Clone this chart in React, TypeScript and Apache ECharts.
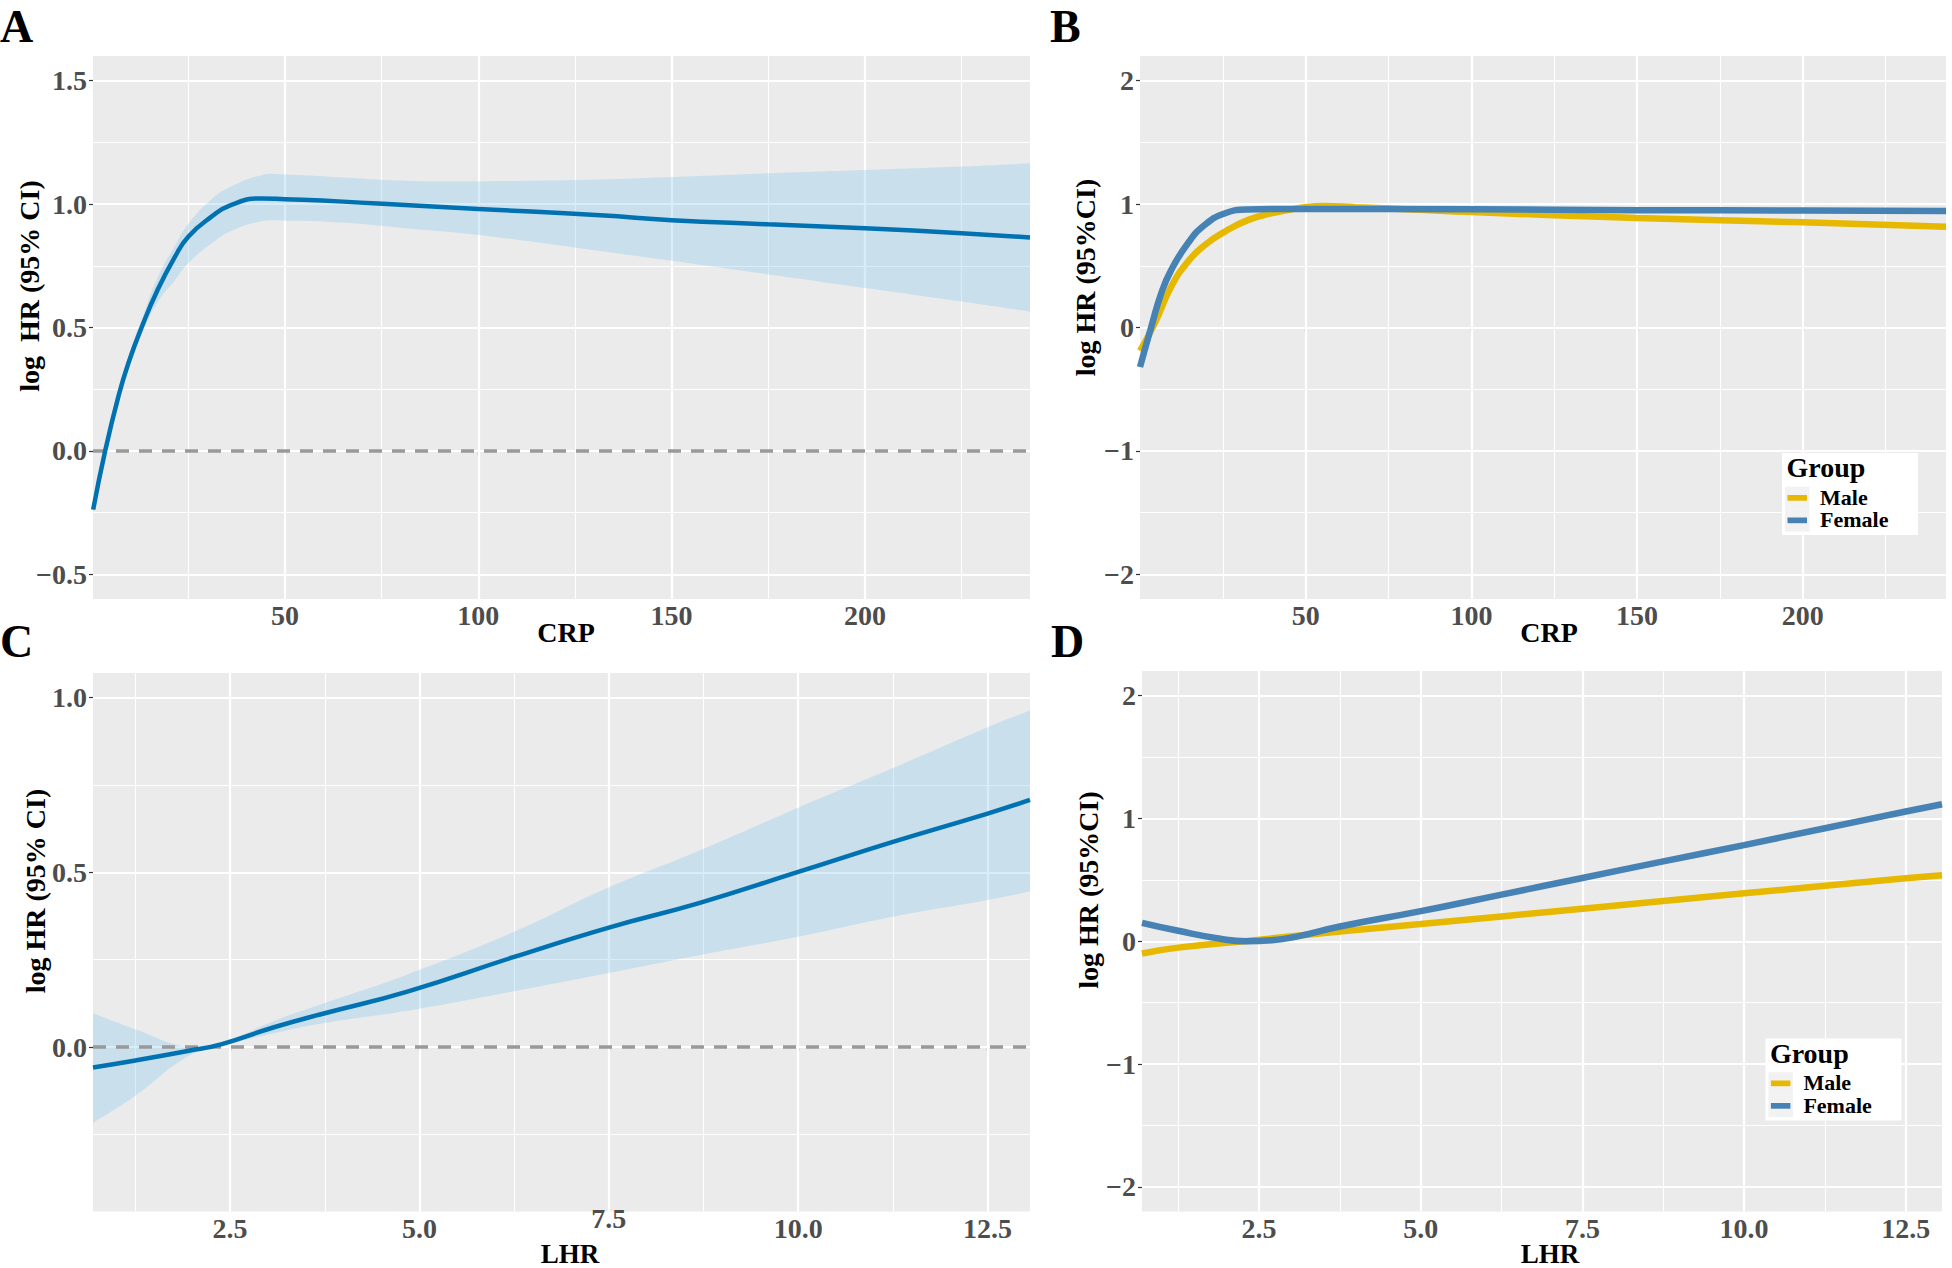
import React, { useEffect, useRef } from 'react';
import * as echarts from 'echarts';

const FONT = '"Liberation Serif", "Times New Roman", serif';
const TICK_COLOR = '#4D4D4D';
const PANEL_BG = '#EBEBEB';
const FIT_COLOR = '#0072B2';
const BAND_COLOR = 'rgba(135,198,238,0.32)';
const ZERO_COLOR = '#999999';

// ---------- Panel A: CRP, overall (fit + 95% CI) ----------
const crpA = [0.4, 3.5, 7, 9.5, 13, 17, 21.5, 25, 31, 36, 44, 50, 65, 81, 100, 131.5, 150, 175, 200, 225, 242.7];
const fitA = [-0.238, 0.0, 0.225, 0.355, 0.503, 0.65, 0.785, 0.868, 0.949, 0.996, 1.023, 1.02, 1.01, 0.996, 0.98, 0.955, 0.935, 0.918, 0.902, 0.882, 0.865];
const upA = [-0.222, 0.02, 0.245, 0.38, 0.535, 0.7, 0.83, 0.92, 1.02, 1.07, 1.117, 1.12, 1.108, 1.095, 1.093, 1.1, 1.11, 1.125, 1.138, 1.152, 1.165];
const loA = [-0.252, -0.02, 0.205, 0.33, 0.475, 0.6, 0.69, 0.76, 0.84, 0.89, 0.93, 0.933, 0.925, 0.902, 0.875, 0.81, 0.77, 0.715, 0.66, 0.605, 0.564];

// ---------- Panel B: CRP by sex ----------
const crpMaleX = [0, 4.4, 9.4, 14.4, 19.5, 25.5, 32.5, 39.5, 44.6, 49.7, 55.8, 65, 82, 100, 150, 200, 243.2];
const crpMaleY = [-0.19, 0.032, 0.33, 0.532, 0.667, 0.775, 0.87, 0.924, 0.951, 0.975, 0.984, 0.975, 0.957, 0.935, 0.888, 0.852, 0.816];
const crpFemaleX = [0, 3.4, 6.4, 9.4, 14.4, 19.5, 25.5, 32.5, 44.6, 100, 150, 200, 243.2];
const crpFemaleY = [-0.32, 0.005, 0.276, 0.465, 0.681, 0.83, 0.924, 0.957, 0.96, 0.958, 0.951, 0.948, 0.945];

// ---------- Panel C: LHR, overall (fit + 95% CI) ----------
const lhrC = [0.69, 1.25, 1.94, 2.38, 3.08, 3.75, 4.84, 6.25, 7.5, 8.69, 10, 11.25, 12.5, 13.06];
const fitC = [-0.058, -0.038, -0.011, 0.008, 0.057, 0.097, 0.159, 0.258, 0.342, 0.412, 0.501, 0.587, 0.668, 0.707];
const upC = [0.097, 0.051, 0.0, 0.012, 0.075, 0.126, 0.208, 0.33, 0.457, 0.562, 0.685, 0.798, 0.915, 0.963];
const loC = [-0.217, -0.139, -0.027, 0.003, 0.04, 0.069, 0.104, 0.16, 0.212, 0.263, 0.316, 0.373, 0.421, 0.445];

// ---------- Panel D: LHR by sex ----------
const lhrMaleX = [0.69, 1.25, 2.5, 3.75, 5, 7.5, 10, 12.5, 13.06];
const lhrMaleY = [-0.1, -0.052, 0.012, 0.08, 0.14, 0.265, 0.39, 0.512, 0.537];
const lhrFemaleX = [0.69, 1.25, 1.9, 2.3, 2.7, 3.1, 3.75, 5, 6.25, 7.5, 8.75, 10, 11.25, 12.5, 13.06];
const lhrFemaleY = [0.15, 0.085, 0.02, 0.0, 0.008, 0.04, 0.12, 0.245, 0.38, 0.515, 0.65, 0.783, 0.92, 1.056, 1.115];

// ---------- ticks / labels ----------
const crpMajor = [50, 100, 150, 200];
const crpMinor = [25, 75, 125, 175, 225];
const crpLabels = ['50', '100', '150', '200'];
const lhrMajor = [2.5, 5, 7.5, 10, 12.5];
const lhrMinor = [1.25, 3.75, 6.25, 8.75, 11.25];
const lhrLabels = ['2.5', '5.0', '7.5', '10.0', '12.5'];
const yAMajor = [-0.5, 0, 0.5, 1, 1.5];
const yAMinor = [-0.25, 0.25, 0.75, 1.25];
const yALabels = ['\u22120.5', '0.0', '0.5', '1.0', '1.5'];
const yCMajor = [0, 0.5, 1];
const yCMinor = [-0.25, 0.25, 0.75];
const yCLabels = ['0.0', '0.5', '1.0'];
const ySexMajor = [-2, -1, 0, 1, 2];
const ySexMinor = [-1.5, -0.5, 0.5, 1.5];
const ySexLabels = ['\u22122', '\u22121', '0', '1', '2'];

const panelLetters = ['A', 'B', 'C', 'D'];
const xTitles = ['CRP', 'CRP', 'LHR', 'LHR'];
const yTitles = ['log\u00A0 HR (95% CI)', 'log HR (95%CI)', 'log HR (95% CI)', 'log HR (95%CI)'];
const legendTitle = 'Group';
const groupNames = ['Male', 'Female'];
const groupColors = ['#E7B800', '#4682B4'];
const raisedLabelsC = ['7.5'];

const W = 1952;
const H = 1268;

const labelFor = (v: number, vals: number[], labels: string[]) => {
  const i = vals.findIndex((m) => Math.abs(m - v) < 1e-6);
  return i >= 0 ? labels[i] : '';
};

const tickLabelStyle = {
  color: TICK_COLOR,
  fontFamily: FONT,
  fontWeight: 'bold',
  fontSize: 28,
  lineHeight: 24,
};

function xAxisCfg(gridIndex: number, min: number, max: number, major: number[], labels: string[], margin: number, raised: string[] = []) {
  return {
    type: 'value',
    gridIndex,
    min,
    max,
    axisLine: { show: false },
    axisTick: { show: true, customValues: major, length: 4, lineStyle: { color: '#333333', width: 1.2 } },
    axisLabel: {
      ...tickLabelStyle,
      customValues: major,
      margin,
      formatter: (v: number) => {
        const s = labelFor(v, major, labels);
        return raised.includes(s) ? `{up|${s}}` : s;
      },
      rich: { up: { ...tickLabelStyle, lineHeight: 4 } },
    },
    splitLine: { show: false },
  };
}

function yAxisCfg(gridIndex: number, min: number, max: number, major: number[], labels: string[]) {
  return {
    type: 'value',
    gridIndex,
    min,
    max,
    axisLine: { show: false },
    axisTick: { show: true, customValues: major, length: 4, lineStyle: { color: '#333333', width: 1.2 } },
    axisLabel: {
      ...tickLabelStyle,
      customValues: major,
      margin: 6,
      formatter: (v: number) => labelFor(v, major, labels),
    },
    splitLine: { show: false },
  };
}

function gridMarks(xMaj: number[], xMin: number[], yMaj: number[], yMin: number[]) {
  const major = { color: '#FFFFFF', width: 2.2, type: 'solid' };
  const minor = { color: '#FFFFFF', width: 1.1, type: 'solid' };
  return {
    silent: true,
    z: 1,
    symbol: ['none', 'none'],
    label: { show: false },
    emphasis: { disabled: true },
    lineStyle: major,
    data: [
      ...xMin.map((v) => ({ xAxis: v, lineStyle: minor })),
      ...xMaj.map((v) => ({ xAxis: v, lineStyle: major })),
      ...yMin.map((v) => ({ yAxis: v, lineStyle: minor })),
      ...yMaj.map((v) => ({ yAxis: v, lineStyle: major })),
    ],
  };
}

const zeroMark = {
  silent: true,
  z: 3,
  symbol: ['none', 'none'],
  label: { show: false },
  emphasis: { disabled: true },
  lineStyle: { color: ZERO_COLOR, width: 3.5, type: [13, 10] },
  data: [{ yAxis: 0 }],
};

function bandSeries(idx: number, xs: number[], up: number[], lo: number[]) {
  return {
    type: 'custom',
    xAxisIndex: idx,
    yAxisIndex: idx,
    clip: true,
    silent: true,
    z: 2,
    data: [[xs[0], lo[0]]],
    renderItem: (_params: any, api: any) => {
      const pts: number[][] = [];
      // corners are doubled so the smoothing keeps the band ends square
      pts.push(api.coord([xs[0], up[0]]));
      for (let i = 0; i < xs.length; i++) pts.push(api.coord([xs[i], up[i]]));
      pts.push(api.coord([xs[xs.length - 1], up[xs.length - 1]]));
      pts.push(api.coord([xs[xs.length - 1], lo[xs.length - 1]]));
      for (let i = xs.length - 1; i >= 0; i--) pts.push(api.coord([xs[i], lo[i]]));
      pts.push(api.coord([xs[0], lo[0]]));
      return {
        type: 'polygon',
        shape: { points: pts, smooth: 0.45 },
        style: { fill: BAND_COLOR, stroke: null },
      };
    },
    markLine: zeroMark,
  };
}

function lineSeries(idx: number, name: string, xs: number[], ys: number[], color: string, width: number, z: number, markLine?: any) {
  const s: any = {
    type: 'line',
    name,
    xAxisIndex: idx,
    yAxisIndex: idx,
    data: xs.map((x, i) => [x, ys[i]]),
    symbol: 'none',
    smooth: 0.5,
    silent: true,
    z,
    lineStyle: { color, width, cap: 'butt' },
  };
  if (markLine) s.markLine = markLine;
  return s;
}

function textEl(text: string, x: number, y: number, size: number, align: string, rotation = 0, lineHeight = size) {
  return {
    type: 'text',
    x,
    y,
    rotation,
    z: 100,
    silent: true,
    style: {
      text,
      fill: '#000000',
      fontFamily: FONT,
      fontWeight: 'bold',
      fontSize: size,
      lineHeight,
      align,
      verticalAlign: 'middle',
      textAlign: align,
      textVerticalAlign: 'middle',
    },
  };
}

function legendEls(x0: number, y0: number) {
  const els: any[] = [
    { type: 'rect', z: 100, silent: true, shape: { x: x0, y: y0, width: 136, height: 82 }, style: { fill: '#FFFFFF' } },
    textEl(legendTitle, x0 + 4.5, y0 + 14.5, 28, 'left', 0, 26),
  ];
  groupNames.forEach((name, i) => {
    const rowY = y0 + 33.7 + i * 22.5;
    els.push({ type: 'rect', z: 100, silent: true, shape: { x: x0 + 3, y: rowY, width: 24.5, height: 22.5 }, style: { fill: '#F2F2F2' } });
    els.push({ type: 'rect', z: 101, silent: true, shape: { x: x0 + 5.5, y: rowY + 8.3, width: 19.5, height: 5.7 }, style: { fill: groupColors[i] } });
    els.push(textEl(name, x0 + 38, rowY + 10.5, 22, 'left', 0, 22));
  });
  return els;
}

function buildOption() {
  const grids = [
    { left: 93, top: 56, width: 937, height: 543 },
    { left: 1140, top: 56, width: 806, height: 543 },
    { left: 93, top: 673, width: 937, height: 538.5 },
    { left: 1142, top: 671, width: 800, height: 540.5 },
  ].map((g) => ({ ...g, show: true, backgroundColor: PANEL_BG, borderWidth: 0, containLabel: false }));

  const xAxis = [
    xAxisCfg(0, 0.36, 242.7, crpMajor, crpLabels, 4),
    xAxisCfg(1, 0, 243.2, crpMajor, crpLabels, 4),
    xAxisCfg(2, 0.69, 13.06, lhrMajor, lhrLabels, 5, raisedLabelsC),
    xAxisCfg(3, 0.69, 13.06, lhrMajor, lhrLabels, 5),
  ];
  const yAxis = [
    yAxisCfg(0, -0.6, 1.6, yAMajor, yALabels),
    yAxisCfg(1, -2.2, 2.2, ySexMajor, ySexLabels),
    yAxisCfg(2, -0.47, 1.07, yCMajor, yCLabels),
    yAxisCfg(3, -2.2, 2.2, ySexMajor, ySexLabels),
  ];

  const series = [
    bandSeries(0, crpA, upA, loA),
    lineSeries(0, 'CRP', crpA, fitA, FIT_COLOR, 4.5, 4, gridMarks(crpMajor, crpMinor, yAMajor, yAMinor)),
    lineSeries(1, groupNames[0], crpMaleX, crpMaleY, groupColors[0], 6.5, 3, gridMarks(crpMajor, crpMinor, ySexMajor, ySexMinor)),
    lineSeries(1, groupNames[1], crpFemaleX, crpFemaleY, groupColors[1], 6.5, 4),
    bandSeries(2, lhrC, upC, loC),
    lineSeries(2, 'LHR', lhrC, fitC, FIT_COLOR, 4.5, 4, gridMarks(lhrMajor, lhrMinor, yCMajor, yCMinor)),
    lineSeries(3, groupNames[0], lhrMaleX, lhrMaleY, groupColors[0], 6.5, 3, gridMarks(lhrMajor, lhrMinor, ySexMajor, ySexMinor)),
    lineSeries(3, groupNames[1], lhrFemaleX, lhrFemaleY, groupColors[1], 6.5, 4),
  ];

  const graphic = [
    textEl(panelLetters[0], 0, 26, 46, 'left'),
    textEl(panelLetters[1], 1050, 26, 46, 'left'),
    textEl(panelLetters[2], 0, 641, 46, 'left'),
    textEl(panelLetters[3], 1051, 641, 46, 'left'),
    textEl(xTitles[0], 566, 632.5, 28, 'center', 0, 22),
    textEl(xTitles[1], 1549, 632.5, 28, 'center', 0, 22),
    textEl(xTitles[2], 570, 1253.5, 27, 'center', 0, 22),
    textEl(xTitles[3], 1550, 1253.5, 27, 'center', 0, 22),
    textEl(yTitles[0], 29.5, 286, 28, 'center', Math.PI / 2),
    textEl(yTitles[1], 1085, 277.5, 28, 'center', Math.PI / 2),
    textEl(yTitles[2], 35.5, 891, 28, 'center', Math.PI / 2),
    textEl(yTitles[3], 1088, 890, 28, 'center', Math.PI / 2),
    ...legendEls(1782, 453),
    ...legendEls(1765.4, 1038.5),
  ];

  return {
    animation: false,
    backgroundColor: '#FFFFFF',
    textStyle: { fontFamily: FONT },
    grid: grids,
    xAxis,
    yAxis,
    series,
    graphic: { elements: graphic },
  };
}

export default function App() {
  const ref = useRef<HTMLDivElement>(null);
  useEffect(() => {
    if (!ref.current) return;
    const chart = echarts.init(ref.current, null, { renderer: 'svg' });
    chart.setOption(buildOption() as any);
    return () => chart.dispose();
  }, []);
  return (
    <div
      ref={ref}
      style={{ position: 'fixed', left: 0, top: 0, width: W, height: H, background: '#FFFFFF' }}
    />
  );
}
